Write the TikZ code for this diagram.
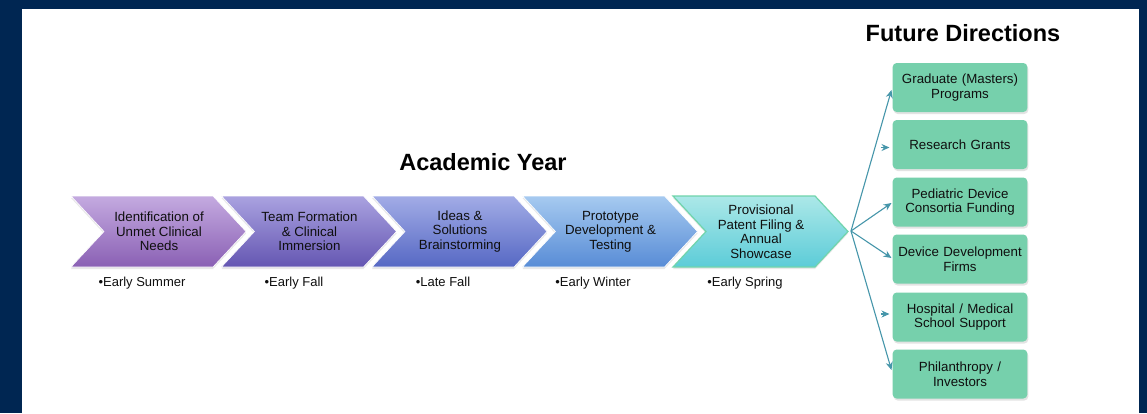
\documentclass[tikz,border=0pt]{standalone}
\usepackage{fontspec}
\setmainfont{Liberation Sans}
\usetikzlibrary{arrows.meta,shadows,calc}

\definecolor{navy}{RGB}{0,38,82}
\definecolor{cAt}{RGB}{196,170,224}\definecolor{cAb}{RGB}{138,96,180}
\definecolor{cBt}{RGB}{170,162,224}\definecolor{cBb}{RGB}{100,86,178}
\definecolor{cCt}{RGB}{162,172,230}\definecolor{cCb}{RGB}{86,104,196}
\definecolor{cDt}{RGB}{166,202,240}\definecolor{cDb}{RGB}{88,140,214}
\definecolor{cEt}{RGB}{172,232,232}\definecolor{cEb}{RGB}{92,204,216}
\definecolor{cEline}{RGB}{112,212,172}
\definecolor{boxgreen}{RGB}{118,208,172}
\definecolor{linkteal}{RGB}{70,150,170}
\definecolor{ink}{RGB}{15,15,15}

\tikzset{
  chevshape/.style={draw=white, line width=0.6pt,
    drop shadow={opacity=0.18, shadow xshift=0pt, shadow yshift=-2pt}},
  steptext/.style={align=center, text=ink,
    font=\fontsize{13.3}{14.5}\selectfont},
  when/.style={text=ink, anchor=base, font=\fontsize{13}{15}\selectfont},
  headline/.style={font=\bfseries\fontsize{23.5}{26}\selectfont, text=black},
  destbox/.style={rectangle, rounded corners=4pt, fill=boxgreen,
    minimum width=132pt, minimum height=49pt, text width=128pt,
    align=center, text=ink, font=\fontsize{13.3}{14.5}\selectfont,
    drop shadow={opacity=0.22, shadow xshift=1pt, shadow yshift=-2pt}},
  link/.style={draw=linkteal, line width=1.1pt,
    -{Stealth[length=8pt, width=7pt]}},
}

\begin{document}
\begin{tikzpicture}[x=1pt, y=-1pt]
  % frame
  \fill[navy] (0,0) rectangle (1147,413);
  \fill[white] (22,9) rectangle (1139,413);
  \useasboundingbox (0,0) rectangle (1147,413);

  % chevrons of the academic year
  \foreach \i/\tc/\bc in {0/cAt/cAb, 1/cBt/cBb, 2/cCt/cCb, 3/cDt/cDb} {
    \pgfmathsetmacro\xa{71+150.5*\i}
    \path[chevshape, top color=\tc, bottom color=\bc]
      (\xa,196) -- ++(142,0) -- ++(33,35.5) -- ++(-33,35.5)
      -- ++(-142,0) -- ++(33,-35.5) -- cycle;
  }
  \path[chevshape, draw=cEline, line width=1.2pt, top color=cEt, bottom color=cEb]
    (673,196) -- ++(142,0) -- ++(33,35.5) -- ++(-33,35.5)
    -- ++(-142,0) -- ++(33,-35.5) -- cycle;

  \node[headline] (year) at (483,162) {Academic Year};
  \node[headline] (future) at (963,33) {Future Directions};

  \node[steptext] (s1) at (159,231.5) {Identification of\\Unmet Clinical\\Needs};
  \node[steptext] (s2) at (309.5,231.5) {Team Formation\\\& Clinical\\Immersion};
  \node[steptext] (s3) at (460,231.5) {Ideas \&\\Solutions\\Brainstorming};
  \node[steptext] (s4) at (610.5,231.5) {Prototype\\Development \&\\Testing};
  \node[steptext] (s5) at (761,231.5) {Provisional\\Patent Filing \&\\Annual\\Showcase};

  \node[when] (w1) at (142,286.5) {•Early Summer};
  \node[when] (w2) at (294,286.5) {•Early Fall};
  \node[when] (w3) at (443,286.5) {•Late Fall};
  \node[when] (w4) at (593,286.5) {•Early Winter};
  \node[when] (w5) at (745,286.5) {•Early Spring};

  % destinations
  \node[destbox] (b1) at (960,87.5) {Graduate (Masters)\\Programs};
  \node[destbox] (b2) at (960,144.5) {Research Grants};
  \node[destbox] (b3) at (960,202) {Pediatric Device\\Consortia Funding};
  \node[destbox] (b4) at (960,259) {Device Development\\Firms};
  \node[destbox] (b5) at (960,317) {Hospital / Medical\\School Support};
  \node[destbox] (b6) at (960,374) {Philanthropy /\\Investors};

  % connectors fanning out from the last chevron
  \coordinate (hub) at (851,231);
  \draw[link] (hub) -- ($(b1.west)+(-1,2.5)$);
  \draw[link] ($(b2.west)+(-11.5,3)$) -- ($(b2.west)+(-3,3)$);
  \draw[link] (hub) -- ($(b3.west)+(-1,1)$);
  \draw[link] (hub) -- ($(b4.west)+(-1,-1)$);
  \draw[link] ($(b5.west)+(-11.5,-3)$) -- ($(b5.west)+(-3,-3)$);
  \draw[link] (hub) -- ($(b6.west)+(-1,-4)$);
\end{tikzpicture}
\end{document}
